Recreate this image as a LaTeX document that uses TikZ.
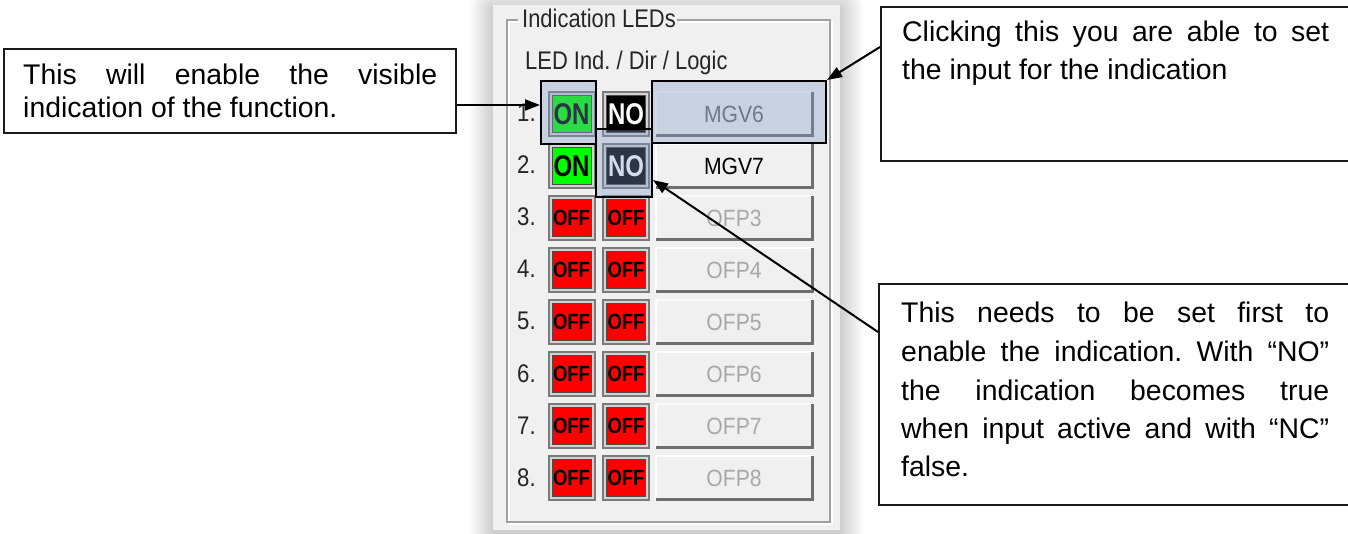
\documentclass[tikz,border=0pt]{standalone}
\usepackage{fontspec}
\setmainfont{Liberation Sans}
\usepackage{graphicx}
\usetikzlibrary{arrows.meta}
\frenchspacing

\definecolor{panelbg}{HTML}{F0F0F0}
\definecolor{framegray}{HTML}{A0A0A0}
\definecolor{ledred}{HTML}{FF0000}
\definecolor{ledgreen}{HTML}{00FF00}
\definecolor{ledrim}{HTML}{7A7A7A}
\definecolor{ledgap}{HTML}{D4D4D4}
\definecolor{hilite}{RGB}{126,154,197}
\definecolor{btnshade}{HTML}{6E6E6E}
\definecolor{btnlight}{HTML}{FCFCFC}
\definecolor{disabled}{HTML}{A8A8A8}

\newcommand\annofont{\fontsize{28.4}{34}\selectfont}
\newcommand\guifont{\fontsize{25.5}{25.5}\selectfont}
\newcommand\bigled{\fontsize{30}{30}\selectfont\bfseries}
\newcommand\smallled{\fontsize{22}{22}\selectfont\bfseries}
\newcommand\btnfont{\fontsize{23.5}{23.5}\selectfont}
\newcommand\narrow[2]{\scalebox{#1}[1]{#2}}

\begin{document}
\begin{tikzpicture}[x=1pt,y=-1pt,
  annobox/.style={draw=black!90, line width=1.7, fill=white, inner sep=0, anchor=north west},
  annotext/.style={anchor=base west, inner sep=0, font=\annofont},
  gui/.style={anchor=base west, inner sep=0, font=\guifont, text=black!85},
  ledframe/.style={draw=ledrim, line width=2, fill=ledgap, minimum width=46pt, minimum height=44pt, inner sep=0},
  ledface/.style={draw=black!70, line width=1, minimum width=39pt, minimum height=37pt, inner sep=0},
  button/.style={fill=panelbg, minimum width=156pt, minimum height=43pt, inner sep=0},
  hl/.style={fill=hilite, fill opacity=0.35, draw=black, line width=2, inner sep=0, anchor=north west},
  arr/.style={line width=2, -{Triangle[length=15pt,width=11pt]}},
]
\useasboundingbox (0,0) rectangle (1348,534);
\clip (0,0) rectangle (1348,534);

% soft shadow behind the dialog panel
\foreach \i in {1,...,24}
  \fill[black, opacity=0.009, rounded corners=\i pt] (493-\i,5-\i+4) rectangle (840+\i,530+\i+4);
\fill[panelbg] (493,5) rectangle (840,530);

% etched group frame
\draw[white, line width=1.5] (520,22) -- (509,22) -- (509,524) -- (832,524) -- (832,22) -- (679,22);
\draw[framegray, line width=1.5] (518,20) -- (507,20) -- (507,522) -- (830,522) -- (830,20) -- (677,20);
\node[gui] (grp) at (522,28) {\narrow{0.86}{Indication LEDs}};
\node[gui] (hdr) at (525,70) {\narrow{0.86}{LED Ind. / Dir / Logic}};

% row 1
\node[gui] (num1) at (517,122) {\narrow{0.87}{1.}};
\node[ledframe] (lA1) at (571.5,114) {};
\node[ledface, fill=ledgreen] (fA1) at (lA1.center) {\bigled\narrow{0.8}{ON}};
\node[ledframe] (lB1) at (626,114) {};
\node[ledface, fill=black, text=white] (fB1) at (lB1.center) {\bigled\narrow{0.8}{NO}};
\node[button] (bt1) at (734,114) {\btnfont\color{black!60}\narrow{0.9}{MGV6}};
\draw[btnlight, line width=2] (bt1.south west) -- (bt1.north west) -- (bt1.north east);
\draw[btnshade, line width=3] (bt1.north east) -- (bt1.south east) -- (bt1.south west);

% row 2
\node[gui] (num2) at (517,174) {\narrow{0.87}{2.}};
\node[ledframe] (lA2) at (571.5,166) {};
\node[ledface, fill=ledgreen] (fA2) at (lA2.center) {\bigled\narrow{0.8}{ON}};
\node[ledframe] (lB2) at (626,166) {};
\node[ledface, fill=black, text=white] (fB2) at (lB2.center) {\bigled\narrow{0.8}{NO}};
\node[button] (bt2) at (734,166) {\btnfont\narrow{0.9}{MGV7}};
\draw[btnlight, line width=2] (bt2.south west) -- (bt2.north west) -- (bt2.north east);
\draw[btnshade, line width=3] (bt2.north east) -- (bt2.south east) -- (bt2.south west);

% rows 3 to 8: inactive outputs
\foreach \n in {3,...,8} {
  \pgfmathsetmacro\cy{114+52*(\n-1)}
  \node[gui] (num\n) at (517,\cy+8) {\narrow{0.87}{\n.}};
  \node[ledframe] (lA\n) at (571.5,\cy) {};
  \node[ledface, fill=ledred] (fA\n) at (lA\n.center) {\smallled\narrow{0.84}{OFF}};
  \node[ledframe] (lB\n) at (626,\cy) {};
  \node[ledface, fill=ledred] (fB\n) at (lB\n.center) {\smallled\narrow{0.84}{OFF}};
  \node[button] (bt\n) at (734,\cy) {\btnfont\color{disabled}\narrow{0.9}{OFP\n}};
  \draw[btnlight, line width=2] (bt\n.south west) -- (bt\n.north west) -- (bt\n.north east);
  \draw[btnshade, line width=3] (bt\n.north east) -- (bt\n.south east) -- (bt\n.south west);
}

% highlight frames
\node[hl, minimum width=55pt, minimum height=63pt] (ov1) at (540,80) {};
\node[hl, minimum width=174pt, minimum height=62pt] (ov2) at (651,80) {};
\node[hl, minimum width=56pt, minimum height=68pt] (ov3) at (595,128) {};

% callout boxes
\node[annobox, minimum width=452pt, minimum height=84pt] (lbox) at (3,48) {};
\node[annotext] (lt1) at (23,85) {\makebox[414pt][s]{This will enable the visible}};
\node[annotext] (lt2) at (23,118) {indication of the function.};

\node[annobox, minimum width=490pt, minimum height=154pt] (trbox) at (880,6) {};
\node[annotext] (tt1) at (902,42) {\makebox[427pt][s]{Clicking this you are able to set}};
\node[annotext] (tt2) at (902,80) {the input for the indication};

\node[annobox, minimum width=490pt, minimum height=221pt] (brbox) at (878,283) {};
\node[annotext] (bt1t) at (901,323) {\makebox[428pt][s]{This needs to be set first to}};
\node[annotext] (bt2t) at (901,361) {\makebox[428pt][s]{enable the indication. With “NO”}};
\node[annotext] (bt3t) at (901,400) {\makebox[428pt][s]{the indication becomes true}};
\node[annotext] (bt4t) at (901,438) {\makebox[428pt][s]{when input active and with “NC”}};
\node[annotext] (bt5t) at (901,476) {false.};

% connectors
\coordinate (y1) at (0,105);
\coordinate (y2) at (0,47);
\coordinate (y3) at (0,332);
\coordinate (y4) at (0,180);
\draw[arr] (lbox.east |- y1) -- (ov1.west |- y1);
\draw[arr] (trbox.west |- y2) -- (ov2.north east);
\draw[arr] (brbox.west |- y3) -- (ov3.east |- y4);
\end{tikzpicture}
\end{document}
